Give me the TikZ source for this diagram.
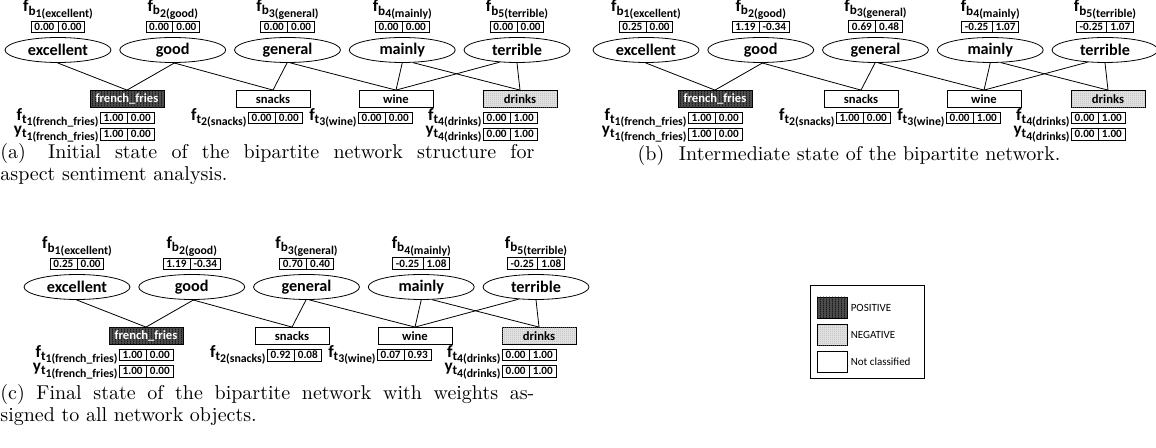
\documentclass[tikz,border=0pt]{standalone}
\usepackage{fontspec}
\newfontfamily\carlito{Carlito}
\usetikzlibrary{shapes.geometric, shapes.multipart, patterns}

% fine textures for the classified boxes
\pgfdeclarepatternformonly{finevlines}{\pgfqpoint{0pt}{0pt}}{\pgfqpoint{1.4pt}{1pt}}{\pgfqpoint{1.4pt}{1pt}}%
  {\pgfpathrectangle{\pgfqpoint{0pt}{0pt}}{\pgfqpoint{0.45pt}{1pt}}\pgfusepath{fill}}
\pgfdeclarepatternformonly{finedots}{\pgfqpoint{0pt}{0pt}}{\pgfqpoint{1pt}{1pt}}{\pgfqpoint{1pt}{1pt}}%
  {\pgfpathrectangle{\pgfqpoint{0pt}{0pt}}{\pgfqpoint{0.4pt}{0.4pt}}\pgfusepath{fill}}

% f_{b_{1(...)}} style labels
\newcommand{\flab}[3]{{\fontsize{8.6}{8}\selectfont #1}\raisebox{-1.6pt}{\fontsize{6.6}{6}\selectfont #2\raisebox{-1.2pt}{\fontsize{5.9}{5}\selectfont #3}}}

\tikzset{
  bnode/.style={ellipse, draw, minimum width=53pt, minimum height=12.5pt, inner sep=0pt,
    font=\carlito\bfseries\fontsize{8.1}{8}\selectfont},
  tnode/.style={rectangle, draw, minimum width=37pt, minimum height=8.5pt, inner sep=0pt,
    font=\carlito\bfseries\fontsize{6.3}{6}\selectfont},
  posfill/.style={fill=black!70, text=white, postaction={pattern=finevlines, pattern color=black!90}},
  negfill/.style={fill=black!12, postaction={pattern=finedots, pattern color=black!35}},
  nofill/.style={},
  vbox/.style={rectangle split, rectangle split horizontal, rectangle split parts=2, draw,
    inner xsep=1.6pt, inner ysep=1pt, font=\carlito\bfseries\fontsize{5.6}{5.6}\selectfont},
  flbl/.style={inner sep=0.5pt, font=\carlito\bfseries},
  swatch/.style={draw, minimum width=15pt, minimum height=10.5pt, inner sep=0pt},
  legtxt/.style={inner sep=1.5pt, font=\carlito\fontsize{5.5}{6}\selectfont},
  capt/.style={inner sep=0pt, font=\fontsize{10}{11}\selectfont},
}

% one bipartite network: #1 prefix, #2 shift, #3 word/values, #4 target values
\newcommand{\network}[4]{%
\begin{scope}[shift={#2}]
  \foreach \w/\va/\vb [count=\i] in {#3} {
    \node[bnode] (#1b\i) at ({58+114.75*(\i-1)},50) {\w};
    \node[vbox, anchor=south] (#1bv\i) at ({58+114.75*(\i-1)},33) {\va\nodepart{two}\vb};
    \node[flbl, anchor=south] (#1bl\i) at (#1bv\i.north) {\flab{f}{b}{\i(\w)}};
  }
  \foreach \x/\st/\nm/\bx [count=\i] in {127/posfill/french\_fries/100, 273/nofill/snacks/248,
      396/nofill/wine/358, 520/negfill/drinks/483} {
    \node[tnode, \st] (#1t\i) at (\x,99) {\nm};
    \node[flbl, anchor=east] (#1tl\i) at (\bx,118) {\flab{f}{t}{\i(\nm)}};
  }
  \foreach \va/\vb [count=\i] in {#4}
    \node[vbox, anchor=west] (#1tv\i) at (#1tl\i.east) {\va\nodepart{two}\vb};
  \node[vbox, anchor=north west] (#1y1) at ([yshift=-2pt]#1tv1.south west) {1.00\nodepart{two}0.00};
  \node[flbl, anchor=east] at (#1y1.west) {\flab{y}{t}{1(french\_fries)}};
  \node[vbox, anchor=north west] (#1y4) at ([yshift=-2pt]#1tv4.south west) {0.00\nodepart{two}1.00};
  \node[flbl, anchor=east] at (#1y4.west) {\flab{y}{t}{4(drinks)}};
  \foreach \b/\a/\t in {1/268/1, 2/278/1, 2/275/2, 3/268/2, 3/282/3, 4/270/3, 5/215/3, 4/310/4, 5/270/4}
    \draw (#1b\b.\a) -- (#1t\t.north);
\end{scope}}

\begin{document}
\begin{tikzpicture}[x=0.5pt, y=-0.5pt]
  \useasboundingbox (0,0) rectangle (1156,448);

  \network{a}{(0,0)}{excellent/0.00/0.00, good/0.00/0.00, general/0.00/0.00, mainly/0.00/0.00, terrible/0.00/0.00}
    {1.00/0.00, 0.00/0.00, 0.00/0.00, 0.00/1.00}
  \network{b}{(588,0)}{excellent/0.25/0.00, good/1.19/-0.34, general/0.69/0.48, mainly/-0.25/1.07, terrible/-0.25/1.07}
    {1.00/0.00, 1.00/0.00, 0.00/1.00, 0.00/1.00}
  \network{c}{(19,237)}{excellent/0.25/0.00, good/1.19/-0.34, general/0.70/0.40, mainly/-0.25/1.08, terrible/-0.25/1.08}
    {1.00/0.00, 0.92/0.08, 0.07/0.93, 0.00/1.00}

  % captions
  \node[capt, anchor=north west, text width=267pt, align=justify] (capa) at (0,143)
    {(a)\hspace{0.4em} Initial state of the bipartite network structure for\linebreak aspect sentiment analysis.};
  \node[capt, anchor=north] (capb) at (849,145)
    {(b)\hspace{0.4em} Intermediate state of the bipartite network.};
  \node[capt, anchor=north west, text width=267pt, align=justify] (capc) at (0,384)
    {(c) Final state of the bipartite network with weights as-\linebreak signed to all network objects.};

  % legend
  \draw (810,285) rectangle (924,378);
  \node[swatch, posfill] (pos) at (832,307.5) {};
  \node[swatch, negfill] (neg) at (832,335) {};
  \node[swatch] (none) at (832,362) {};
  \node[legtxt, anchor=west] (postxt) at (pos.east) {POSITIVE};
  \node[legtxt, anchor=west] (negtxt) at (neg.east) {NEGATIVE};
  \node[legtxt, anchor=west] (nonetxt) at (none.east) {Not classified};
\end{tikzpicture}
\end{document}
